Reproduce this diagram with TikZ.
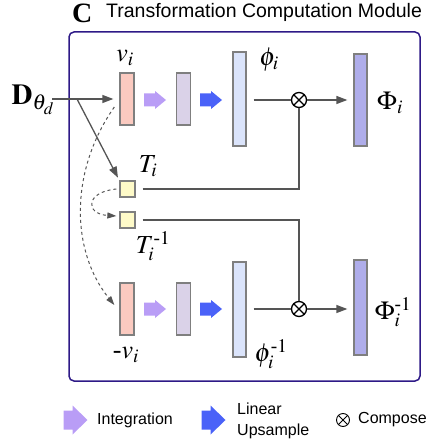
\documentclass[tikz,border=0pt]{standalone}
\usepackage{amsmath}
\usepackage{mathptmx}
\usepackage[no-math]{fontspec}
\setmainfont{Liberation Serif}
\setsansfont{Liberation Sans}
\usetikzlibrary{arrows.meta}

\definecolor{framecol}{HTML}{2E1A87}
\definecolor{linecol}{HTML}{555555}
\definecolor{edgecol}{HTML}{7F7F7F}
\definecolor{velcol}{HTML}{FBCAC0}
\definecolor{intcol}{HTML}{DAD2E8}
\definecolor{phicol}{HTML}{DBE4FB}
\definecolor{bigphicol}{HTML}{AFADEA}
\definecolor{tcol}{HTML}{FEFAC8}
\definecolor{intarrcol}{HTML}{B99DF6}
\definecolor{uparrcol}{HTML}{4A62F8}

\begin{document}
\begin{tikzpicture}[x=1pt,y=-1pt,
    bar/.style={draw=edgecol, line width=1.3pt, inner sep=0pt, minimum width=13pt},
    tbox/.style={draw=edgecol, line width=1.3pt, fill=tcol, inner sep=0pt, minimum width=15pt, minimum height=16pt},
    lab/.style={inner sep=0pt, font=\fontsize{26}{28}\selectfont},
    conn/.style={draw=linecol, line width=1.3pt},
    tip/.style={-{Triangle[length=11pt,width=8pt]}},
    dconn/.style={draw=linecol, line width=1pt, dashed, -{Triangle[length=9pt,width=6pt]}},
    compose/.style={circle, draw=black, line width=1.3pt, minimum size=15pt, inner sep=0pt,
        path picture={\draw[line width=1.3pt] (path picture bounding box.north west) -- (path picture bounding box.south east)
            (path picture bounding box.north east) -- (path picture bounding box.south west);}},
    flowarr/.pic={\fill (-11,-6.5) -- (0,-6.5) -- (0,-9) -- (11,0) -- (0,9) -- (0,6.5) -- (-11,6.5) -- cycle;},
    bigflowarr/.pic={\fill (-12,-9.5) -- (-3,-9.5) -- (-3,-14.5) -- (12,0) -- (-3,14.5) -- (-3,9.5) -- (-12,9.5) -- cycle;},
    legtext/.style={font=\sffamily\fontsize{16}{21}\selectfont, inner sep=0pt}]
    \useasboundingbox (0,0) rectangle (432,443);

    % Title
    \node[font=\fontsize{28}{28}\selectfont\bfseries, anchor=west, inner sep=0pt] (ttlc) at (72,13) {C};
    \node[font=\sffamily\fontsize{19.5}{20}\selectfont, anchor=west, inner sep=0pt] (ttl) at (106,12) {Transformation Computation Module};

    % Module frame
    \draw[framecol, line width=1.5pt, rounded corners=5pt] (69,32) rectangle (420,381);

    % Top row: v, integration, upsample, phi, Phi
    \node[bar, fill=velcol, minimum width=14pt, minimum height=52pt] (vtop) at (127,99) {};
    \pic[fill=intarrcol] (inttop) at (155,100) {flowarr};
    \node[bar, fill=intcol, minimum width=14pt, minimum height=52pt] (itop) at (183.5,99) {};
    \pic[fill=uparrcol] (uptop) at (211,100) {flowarr};
    \node[bar, fill=phicol, minimum height=94pt] (phitop) at (239.5,99) {};
    \node[compose] (ctop) at (299,100) {};
    \node[bar, fill=bigphicol, minimum height=92pt] (Phitop) at (360.5,100) {};

    % Transformation boxes
    \node[tbox] (Ti) at (127.5,189) {};
    \node[tbox] (Tinv) at (127.5,220) {};

    % Bottom row: -v, integration, upsample, phi^-1, Phi^-1
    \node[bar, fill=velcol, minimum width=14pt, minimum height=52pt] (vbot) at (127,309) {};
    \pic[fill=intarrcol] (intbot) at (155,309) {flowarr};
    \node[bar, fill=intcol, minimum width=14pt, minimum height=52pt] (ibot) at (183.5,309) {};
    \pic[fill=uparrcol] (upbot) at (211,309) {flowarr};
    \node[bar, fill=phicol, minimum height=95pt] (phibot) at (239.5,309.5) {};
    \node[compose] (cbot) at (299,309) {};
    \node[bar, fill=bigphicol, minimum height=95pt] (Phibot) at (360.5,307.5) {};

    % Labels
    \node[lab, font=\fontsize{29}{30}\selectfont] (D) at (33,100) {$\mathbf{D}_{\theta_d}$};
    \node[lab] (lvt) at (125,58) {$v_i$};
    \node[lab] (lphit) at (269,60) {$\phi_i$};
    \node[lab] (lPhit) at (390,103) {$\Phi_i$};
    \node[lab] (lTi) at (148,166) {$T_i$};
    \node[lab] (lTinv) at (153,246) {$T_i^{\text{-}1}$};
    \node[lab] (lvb) at (126,355) {$\text{-}v_i$};
    \node[lab] (lphib) at (271,354) {$\phi_i^{\text{-}1}$};
    \node[lab] (lPhib) at (393,312) {$\Phi_i^{\text{-}1}$};

    % Connectors
    \coordinate (din) at (52,99);
    \coordinate (dsplit) at (77,99);
    \draw[conn, tip, shorten >=6pt] (din) -- (vtop.west);
    \draw[conn, tip, shorten >=3pt] (dsplit) -- (Ti.north west);
    \draw[dconn] ([shift={(-5pt,-8pt)}]vtop.west) .. controls (70,170) and (70,250) .. ([shift={(-5pt,4pt)}]vbot.west);
    \draw[dconn] ([xshift=-3pt]Ti.west) .. controls (85,192) and (85,214) .. ([shift={(-3pt,4pt)}]Tinv.west);
    \draw[conn, shorten <=7pt] (phitop.east |- ctop) -- (ctop.west);
    \draw[conn, tip, shorten >=6pt] (ctop.east) -- (ctop.east -| Phitop.west);
    \draw[conn, shorten <=7pt] (Ti.east) -| (ctop.south);
    \draw[conn, shorten <=7pt] (Tinv.east) -| (cbot.north);
    \draw[conn, shorten <=7pt] (phibot.east |- cbot) -- (cbot.west);
    \draw[conn, tip, shorten >=6pt] (cbot.east) -- (cbot.east -| Phibot.west);

    % Legend
    \pic[fill=intarrcol] (lgint) at (75.5,420) {bigflowarr};
    \node[legtext, anchor=west] (lgintt) at (97,420) {Integration};
    \pic[fill=uparrcol] (lgup) at (213.5,420) {bigflowarr};
    \node[legtext, anchor=west, align=left] (lgupt) at (237,421) {Linear\\Upsample};
    \node[compose, line width=0.9pt, minimum size=13pt,
        path picture={\draw[line width=0.9pt] (path picture bounding box.north west) -- (path picture bounding box.south east)
            (path picture bounding box.north east) -- (path picture bounding box.south west);}] (lgcmp) at (343,420) {};
    \node[legtext, anchor=west] (lgcmpt) at (358,420) {Compose};
\end{tikzpicture}
\end{document}
